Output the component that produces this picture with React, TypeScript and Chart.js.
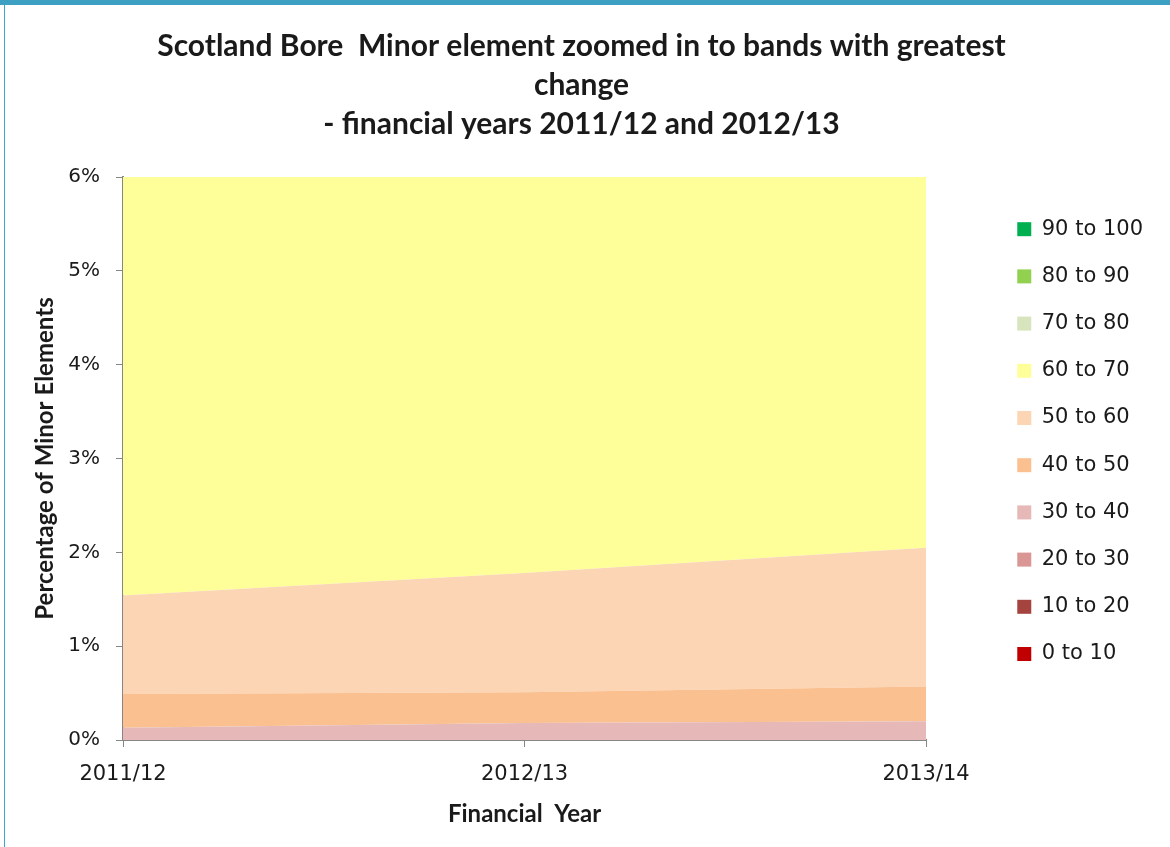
import React, { useEffect, useRef } from "react";
import { Chart, registerables } from "chart.js";

Chart.register(...registerables);

const categories = ["2011/12", "2012/13", "2013/14"];
const bandLabels = ["0 to 10", "10 to 20", "20 to 30", "30 to 40", "40 to 50", "50 to 60", "60 to 70", "70 to 80", "80 to 90", "90 to 100"];
const band0to10 = [0, 0, 0];
const band10to20 = [0, 0, 0];
const band20to30 = [0, 0, 0];
const band30to40 = [0.13, 0.18, 0.2];
const band40to50 = [0.36, 0.33, 0.37];
const band50to60 = [1.05, 1.27, 1.48];
const band60to70 = [30, 29, 28];
const band70to80 = [40, 40, 40];
const band80to90 = [20, 20, 21];
const band90to100 = [7.46, 8.22, 7.95];
const bandColors = ["#c00000", "#a5433f", "#d99694", "#e6b9b8", "#fac090", "#fcd5b5", "#ffff99", "#d7e4bd", "#92d050", "#00b050"];
const yTicks = [0, 1, 2, 3, 4, 5, 6];
const titleLines = ["Scotland Bore  Minor element zoomed in to bands with greatest", "change", "- financial years 2011/12 and 2012/13"];

export default function App() {
  const ref = useRef<HTMLCanvasElement>(null);
  useEffect(() => {
    const values = [band0to10, band10to20, band20to30, band30to40, band40to50, band50to60, band60to70, band70to80, band80to90, band90to100];
    const chart = new Chart(ref.current!, {
      type: "line",
      data: {
        labels: categories,
        datasets: values.map((v, i) => ({
          label: bandLabels[i],
          data: v,
          yAxisID: "y",
          backgroundColor: bandColors[i],
          borderColor: bandColors[i],
          borderWidth: 0,
          pointRadius: 0,
          pointHoverRadius: 0,
          fill: i === 0 ? "origin" : "-1",
          tension: 0,
        })),
      },
      options: {
        animation: false,
        responsive: true,
        maintainAspectRatio: false,
        layout: { padding: { left: 4, right: 17, top: 0, bottom: 18 } },
        plugins: {
          tooltip: { enabled: false },
          title: {
            display: true,
            text: titleLines,
            color: "#1a1a1a",
            font: { family: "Lato", size: 30, weight: "bold", lineHeight: 1.3 },
            padding: { top: 22, bottom: 33 },
          },
          legend: {
            position: "right",
            reverse: true,
            align: "start",
            title: { display: true, text: "", font: { size: 12, lineHeight: 1 }, padding: { top: 175.5, bottom: 0 } },
            labels: {
              boxWidth: 14,
              boxHeight: 14,
              padding: 26.2,
              color: "#1a1a1a",
              font: { family: "DejaVu Sans", size: 21 },
            },
          },
        },
        scales: {
          x: {
            type: "category",
            offset: false,
            grid: { drawOnChartArea: false, drawTicks: true, tickLength: 7, color: "#868686" },
            border: { display: true, color: "#868686", width: 2 },
            ticks: { color: "#1a1a1a", font: { family: "DejaVu Sans", size: 21 }, padding: 15, maxRotation: 0 },
            title: { display: true, text: "Financial  Year", color: "#1a1a1a", font: { family: "Lato", size: 24, weight: "bold" }, padding: { top: 0, bottom: 0 } },
            afterFit: (s: any) => {
              s.height = 89;
            },
          },
          y: {
            stacked: true,
            position: "left",
            min: 0,
            max: 6,
            afterBuildTicks: (axis: any) => {
              axis.ticks = yTicks.map((v) => ({ value: v }));
            },
            grid: { drawOnChartArea: false, drawTicks: true, tickLength: 7, color: "#868686" },
            border: { display: true, color: "#868686", width: 2 },
            ticks: { color: "#1a1a1a", font: { family: "DejaVu Sans", size: 20 }, padding: 16, callback: (v: any) => v + "%" },
            title: { display: true, text: "Percentage of Minor Elements", color: "#1a1a1a", font: { family: "Lato", size: 24, weight: "bold" }, padding: { top: 20.6, bottom: 0 } },
            afterFit: (s: any) => {
              s.width = 113;
            },
          },
          gap: {
            type: "linear",
            position: "right",
            display: true,
            grid: { display: false, drawTicks: false },
            border: { display: false },
            ticks: { display: false },
            afterFit: (s: any) => {
              s.width = 65;
            },
          },
        },
      },
    });
    return () => chart.destroy();
  }, []);
  return (
    <div style={{ position: "fixed", left: 0, top: 0, width: 1170, height: 847, background: "#fff", overflow: "hidden" }}>
      <div style={{ position: "absolute", left: 0, top: 0, width: 1170, height: 5, background: "#3d9fc2" }} />
      <div style={{ position: "absolute", left: 4, top: 5, width: 1, height: 842, background: "#3aa8cc" }} />
      <div style={{ position: "absolute", left: 6, top: 5, width: 1164, height: 842 }}>
        <canvas ref={ref} />
      </div>
    </div>
  );
}
